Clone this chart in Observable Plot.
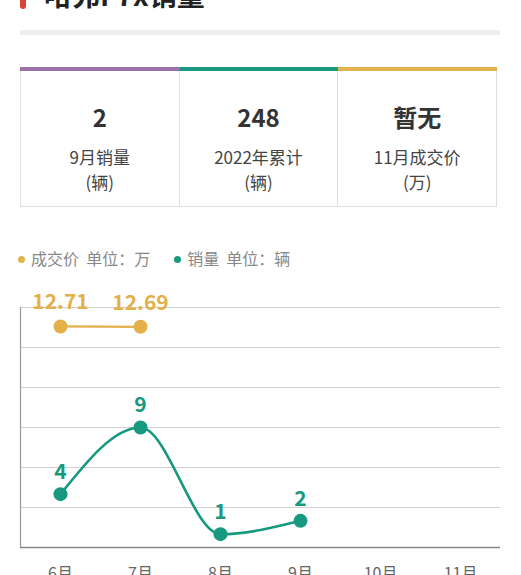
<!DOCTYPE html>
<html>
<head>
<meta charset="utf-8">
<script src="https://cdn.jsdelivr.net/npm/d3@7"></script>
<script src="https://cdn.jsdelivr.net/npm/@observablehq/plot@0.6"></script>
<style>
  html, body { margin: 0; padding: 0; background: #fff; }
  body { width: 521px; height: 575px; overflow: hidden; position: relative;
         font-family: "Noto Sans CJK SC", "Noto Sans", sans-serif; color: #333; }
  .redbar { position: absolute; left: 20px; top: -10px; width: 6px; height: 19px; background: #d9423a; border-radius: 3px; }
  .title { position: absolute; left: 44px; top: -20px; font-size: 28px; font-weight: bold; line-height: 28px; color: #222; white-space: nowrap; }
  .graybar { position: absolute; left: 20px; top: 30px; width: 480px; height: 5px; background: #eeeeee; }
  .cards { position: absolute; left: 20px; top: 67px; width: 477px; height: 140px; display: flex; }
  .card { flex: 1; border: 1px solid #dedede; border-top: none; box-sizing: border-box; position: relative; text-align: center; }
  .card + .card { border-left: none; }
  .card .top { position: absolute; left: -1px; right: -1px; top: 0; height: 4px; }
  .card + .card .top { left: 0; }
  .card .num { position: absolute; left: 0; right: 0; top: 32px; font-size: 24px; font-weight: bold; line-height: 36px; color: #333; }
  .card .lab { position: absolute; left: 0; right: 0; top: 77px; font-size: 17px; line-height: 25px; color: #444; }
  .legend { position: absolute; left: 18px; top: 246px; font-size: 16px; line-height: 24px; color: #888; white-space: nowrap; }
  .legend span.dot { display: inline-block; width: 7px; height: 7px; border-radius: 50%; vertical-align: middle; margin-right: 6px; position: relative; top: -1px; }
  .legend .item { display: inline-block; }
  #chart { position: absolute; left: 0; top: 280px; }
</style>
</head>
<body>
<div class="redbar"></div>
<div class="title" id="title"></div>
<div class="graybar"></div>
<div class="cards" id="cards"></div>
<div class="legend" id="legend"></div>
<div id="chart"></div>
<script>
// ---- data ----
const titleText = "哈弗F7x销量";
const cardValues = ["2", "248", "暂无"];
const cardLabels = ["9月销量", "2022年累计", "11月成交价"];
const cardUnits = ["(辆)", "(辆)", "(万)"];
const cardColors = ["#9a72a6", "#16997f", "#e0b24c"];

const months = ["6月", "7月", "8月", "9月", "10月", "11月"];
const salesMonths = ["6月", "7月", "8月", "9月"];
const salesValues = [4, 9, 1, 2];
const priceMonths = ["6月", "7月"];
const priceValues = [12.71, 12.69];
const priceLabels = ["12.71", "12.69"];
const yTicks = [0, 3, 6, 9, 12, 15, 18];
const legendItems = [
  {name: "成交价", unit: "单位：万", color: "#e0b24c"},
  {name: "销量", unit: "单位：辆", color: "#16997f"}
];

const teal = "#16997f";
const gold = "#e3b04a";

// ---- header ----
document.getElementById("title").textContent = titleText;
const cards = document.getElementById("cards");
cardValues.forEach((v, i) => {
  const c = document.createElement("div");
  c.className = "card";
  c.innerHTML = `<div class="top" style="background:${cardColors[i]}"></div>
    <div class="num">${v}</div>
    <div class="lab">${cardLabels[i]}<br>${cardUnits[i]}</div>`;
  cards.appendChild(c);
});
const legend = document.getElementById("legend");
legendItems.forEach((d, i) => {
  const s = document.createElement("div");
  s.className = "item";
  s.style.marginRight = i === 0 ? "24px" : "0";
  s.innerHTML = `<span class="dot" style="background:${d.color}"></span>${d.name}&nbsp;&nbsp;${d.unit}`;
  legend.appendChild(s);
});

// ---- chart ----
const sales = salesMonths.map((m, i) => ({month: m, value: salesValues[i]}));
const price = priceMonths.map((m, i) => ({month: m, value: priceValues[i], label: priceLabels[i]}));
// secondary (price) axis mapped onto the primary y range
const priceToY = d3.scaleLinear([0, 13.8], [0, 18]);

const font = "Noto Sans CJK SC, Noto Sans, sans-serif";
const chart = Plot.plot({
  width: 521,
  height: 310,
  marginTop: 27,
  marginBottom: 43,
  marginLeft: 20,
  marginRight: 21,
  style: {fontFamily: font, background: "transparent", overflow: "visible"},
  x: {type: "point", domain: months, padding: 0.5, label: null},
  y: {domain: [0, 18], label: null, axis: null},
  marks: [
    Plot.ruleY(yTicks.slice(1), {stroke: "#d0d0d0", strokeWidth: 1}),
    Plot.frame({anchor: "left", stroke: "#999", strokeWidth: 1.2}),
    Plot.ruleY([0], {stroke: "#888", strokeWidth: 1.6}),
    Plot.axisX({tickSize: 0, tickPadding: 20, fontSize: 16, fill: "#666", label: null}),
    Plot.line(price, {x: "month", y: d => priceToY(d.value), stroke: gold, strokeWidth: 2.2}),
    Plot.dot(price, {x: "month", y: d => priceToY(d.value), r: 7, fill: gold}),
    Plot.text(price, {x: "month", y: d => priceToY(d.value), text: "label", dy: -24, fill: gold, fontSize: 21, fontWeight: "bold"}),
    Plot.line(sales, {x: "month", y: "value", curve: "monotone-x", stroke: teal, strokeWidth: 2.6}),
    Plot.dot(sales, {x: "month", y: "value", r: 7, fill: teal}),
    Plot.text(sales, {x: "month", y: "value", text: d => String(d.value), dy: -22, fill: teal, fontSize: 21, fontWeight: "bold"})
  ]
});
document.getElementById("chart").appendChild(chart);
</script>
</body>
</html>
